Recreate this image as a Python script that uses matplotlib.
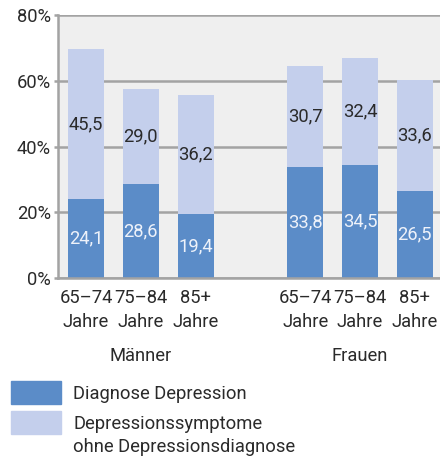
import matplotlib.pyplot as plt
from matplotlib.patches import Rectangle
from matplotlib.transforms import blended_transform_factory

plt.rcParams['font.family'] = ['Roboto', 'DejaVu Sans']

# data
age_labels = ["65\u201374\nJahre", "75\u201384\nJahre", "85+\nJahre"] * 2
groups = ["M\u00e4nner", "Frauen"]
diagnose = [24.1, 28.6, 19.4, 33.8, 34.5, 26.5]
symptome = [45.5, 29.0, 36.2, 30.7, 32.4, 33.6]
positions = [0, 1, 2, 4, 5, 6]
legend_labels = ["Diagnose Depression", "Depressionssymptome\nohne Depressionsdiagnose"]

dark = "#5b8cc8"
light = "#c4cfec"
grid_col = "#a3a3a3"
txt = "#2a2a2a"
fs = 13.2
fw = "normal"

W, H = 440, 457
fig = plt.figure(figsize=(W / 100, H / 100), dpi=100)
ax = fig.add_axes([58 / W, (H - 278) / H, 1 - 58 / W, (278 - 15) / H])
ax.set_facecolor("#efefef")

bw = 0.655
ax.bar(positions, diagnose, width=bw, color=dark, zorder=3)
ax.bar(positions, symptome, width=bw, bottom=diagnose, color=light, zorder=3)

for x, d, s in zip(positions, diagnose, symptome):
    ax.text(x, d / 2, f"{d:.1f}".replace(".", ","), ha="center", va="center",
            color="#eef2fa", fontsize=fs, fontweight=fw, zorder=4)
    ax.text(x, d + s / 2, f"{s:.1f}".replace(".", ","), ha="center", va="center",
            color=txt, fontsize=fs, fontweight=fw, zorder=4)

ax.set_ylim(0, 80)
ax.set_xlim(-0.51, 6.46)
ax.set_yticks([0, 20, 40, 60, 80])
ax.set_yticklabels(["0%", "20%", "40%", "60%", "80%"], fontsize=fs,
                   fontweight=fw, color=txt)
ax.yaxis.grid(True, color=grid_col, linewidth=1.8, zorder=1)
ax.tick_params(axis="y", length=3, width=1.8, color=grid_col, pad=2)
ax.tick_params(axis="x", length=0, pad=8)
ax.set_xticks(positions)
ax.set_xticklabels(age_labels, fontsize=fs, fontweight=fw, color=txt,
                   linespacing=1.42)

for side in ["top", "right"]:
    ax.spines[side].set_visible(False)
for side in ["left", "bottom"]:
    ax.spines[side].set_color(grid_col)
    ax.spines[side].set_linewidth(1.8)
    ax.spines[side].set_zorder(5)

trans = blended_transform_factory(ax.transData, fig.transFigure)
for g, xc in zip(groups, [1, 5]):
    ax.text(xc, 1 - 356 / H, g, transform=trans, ha="center", va="center",
            fontsize=fs, fontweight=fw, color=txt)

# legend
for i, (col, lab) in enumerate(zip([dark, light], legend_labels)):
    y0 = [381, 411][i]
    fig.patches.append(Rectangle((11 / W, 1 - (y0 + 23) / H), 50 / W, 23 / H,
                                 transform=fig.transFigure, color=col))
    fig.text(73 / W, 1 - (y0 + 4) / H, lab, ha="left", va="top", fontsize=fs,
             fontweight=fw, color=txt, linespacing=1.38)

fig.savefig("out.png", dpi=100)
